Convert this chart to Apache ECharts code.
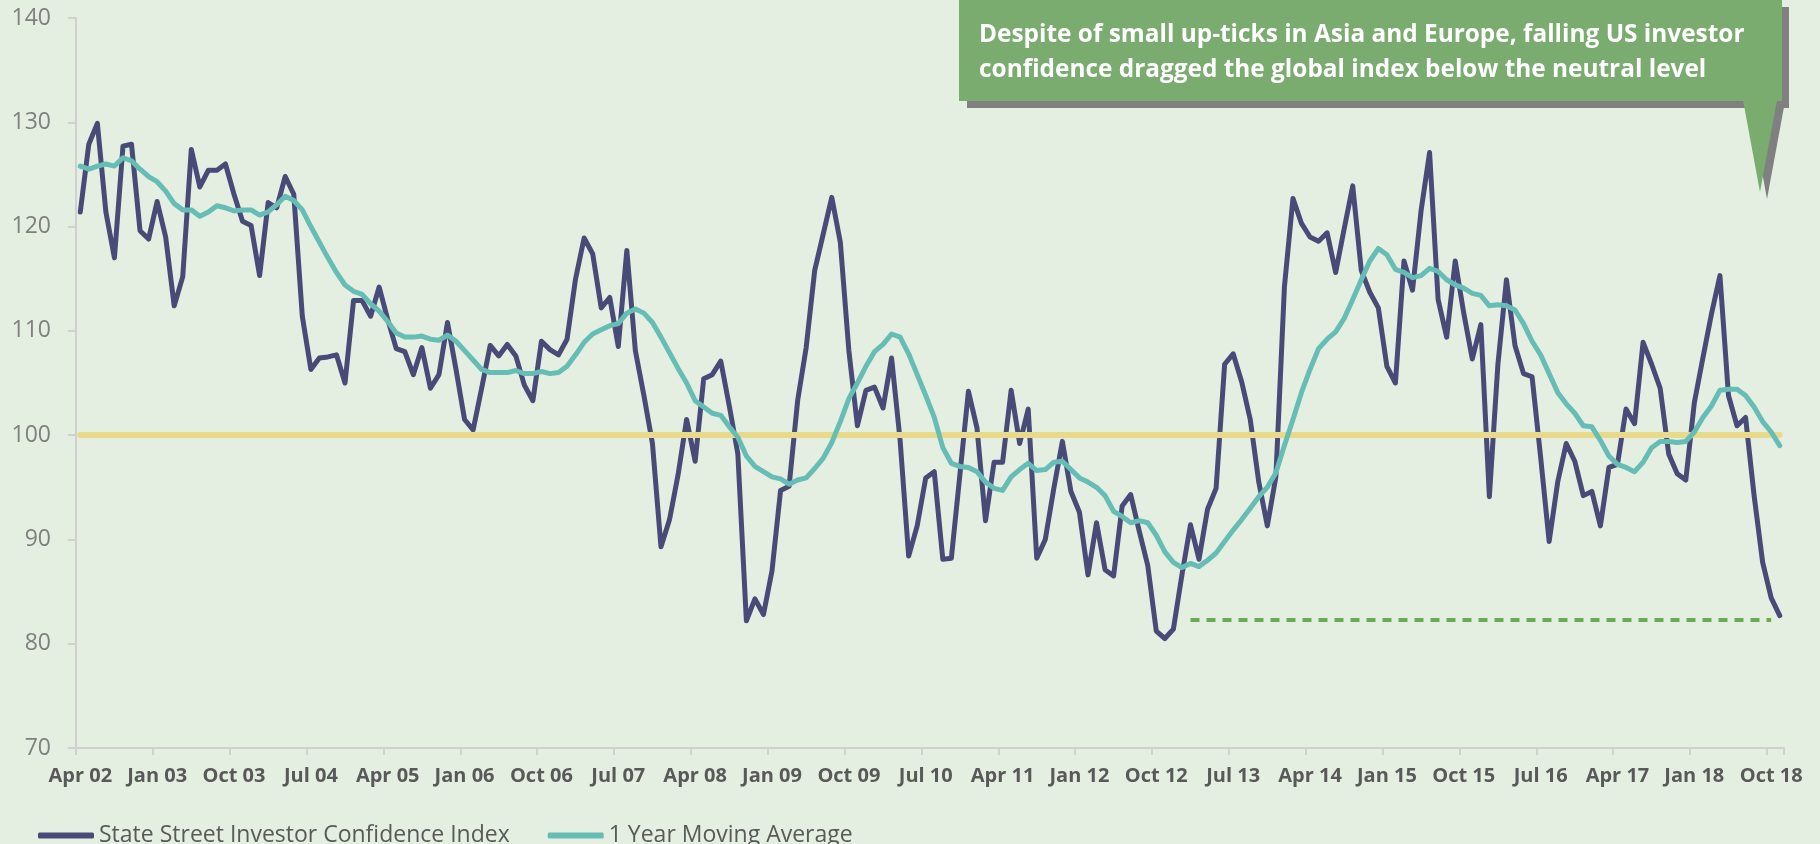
<!DOCTYPE html>
<html>
<head>
<meta charset="utf-8">
<script src="https://cdn.jsdelivr.net/npm/echarts@6/dist/echarts.min.js"></script>
<style>
html,body{margin:0;padding:0;background:#E4EFE1;}
#chart{width:1820px;height:844px;}
</style>
</head>
<body>
<div id="chart"></div>
<script>
const months = [
 "Apr 02","May 02","Jun 02","Jul 02","Aug 02","Sep 02","Oct 02","Nov 02","Dec 02",
 "Jan 03","Feb 03","Mar 03","Apr 03","May 03","Jun 03","Jul 03","Aug 03","Sep 03","Oct 03","Nov 03","Dec 03",
 "Jan 04","Feb 04","Mar 04","Apr 04","May 04","Jun 04","Jul 04","Aug 04","Sep 04","Oct 04","Nov 04","Dec 04",
 "Jan 05","Feb 05","Mar 05","Apr 05","May 05","Jun 05","Jul 05","Aug 05","Sep 05","Oct 05","Nov 05","Dec 05",
 "Jan 06","Feb 06","Mar 06","Apr 06","May 06","Jun 06","Jul 06","Aug 06","Sep 06","Oct 06","Nov 06","Dec 06",
 "Jan 07","Feb 07","Mar 07","Apr 07","May 07","Jun 07","Jul 07","Aug 07","Sep 07","Oct 07","Nov 07","Dec 07",
 "Jan 08","Feb 08","Mar 08","Apr 08","May 08","Jun 08","Jul 08","Aug 08","Sep 08","Oct 08","Nov 08","Dec 08",
 "Jan 09","Feb 09","Mar 09","Apr 09","May 09","Jun 09","Jul 09","Aug 09","Sep 09","Oct 09","Nov 09","Dec 09",
 "Jan 10","Feb 10","Mar 10","Apr 10","May 10","Jun 10","Jul 10","Aug 10","Sep 10","Oct 10","Nov 10","Dec 10",
 "Jan 11","Feb 11","Mar 11","Apr 11","May 11","Jun 11","Jul 11","Aug 11","Sep 11","Oct 11","Nov 11","Dec 11",
 "Jan 12","Feb 12","Mar 12","Apr 12","May 12","Jun 12","Jul 12","Aug 12","Sep 12","Oct 12","Nov 12","Dec 12",
 "Jan 13","Feb 13","Mar 13","Apr 13","May 13","Jun 13","Jul 13","Aug 13","Sep 13","Oct 13","Nov 13","Dec 13",
 "Jan 14","Feb 14","Mar 14","Apr 14","May 14","Jun 14","Jul 14","Aug 14","Sep 14","Oct 14","Nov 14","Dec 14",
 "Jan 15","Feb 15","Mar 15","Apr 15","May 15","Jun 15","Jul 15","Aug 15","Sep 15","Oct 15","Nov 15","Dec 15",
 "Jan 16","Feb 16","Mar 16","Apr 16","May 16","Jun 16","Jul 16","Aug 16","Sep 16","Oct 16","Nov 16","Dec 16",
 "Jan 17","Feb 17","Mar 17","Apr 17","May 17","Jun 17","Jul 17","Aug 17","Sep 17","Oct 17","Nov 17","Dec 17",
 "Jan 18","Feb 18","Mar 18","Apr 18","May 18","Jun 18","Jul 18","Aug 18","Sep 18","Oct 18","Nov 18"
];

const confidenceIndex = [
 121.4,127.9,129.9,121.4,117.0,127.7,127.9,119.6,118.8,122.4,
 119.0,112.4,115.2,127.4,123.8,125.4,125.4,126.0,123.1,120.5,
 120.1,115.3,122.3,121.8,124.8,123.1,111.4,106.3,107.4,107.5,
 107.7,105.0,112.9,112.9,111.4,114.2,111.1,108.3,108.0,105.8,
 108.4,104.5,105.8,110.8,106.3,101.5,100.5,104.5,108.6,107.6,
 108.7,107.6,104.8,103.3,109.0,108.2,107.7,109.2,115.0,118.9,
 117.4,112.2,113.2,108.5,117.7,108.1,103.8,99.2,89.3,91.9,
 96.2,101.5,97.5,105.4,105.8,107.1,102.8,98.2,82.2,84.3,
 82.8,87.0,94.7,95.1,103.3,108.4,115.8,119.3,122.8,118.5,
 108.1,100.9,104.3,104.6,102.6,107.4,99.5,88.4,91.3,95.9,
 96.5,88.1,88.2,96.2,104.2,100.7,91.8,97.4,97.4,104.3,
 99.2,102.5,88.2,90.0,94.9,99.4,94.6,92.6,86.6,91.6,
 87.1,86.5,93.2,94.3,90.8,87.5,81.2,80.5,81.4,86.6,
 91.4,88.1,92.9,94.9,106.8,107.8,105.1,101.5,95.5,91.3,
 96.0,114.2,122.7,120.3,119.0,118.6,119.4,115.6,119.8,123.9,
 115.8,113.7,112.2,106.6,105.0,116.7,113.9,121.5,127.1,113.0,
 109.4,116.7,111.7,107.3,110.6,94.1,106.8,114.9,108.6,105.9,
 105.6,97.9,89.8,95.5,99.2,97.5,94.2,94.6,91.3,96.9,
 97.2,102.5,101.1,108.9,106.8,104.5,98.2,96.3,95.7,103.1,
 107.4,111.6,115.3,103.8,100.9,101.7,94.2,87.8,84.4,82.7
];

const movingAverage = [
 125.8,125.5,125.8,126.0,125.8,126.6,126.3,125.5,124.8,124.3,
 123.4,122.2,121.6,121.6,121.0,121.4,122.0,121.8,121.5,121.6,
 121.6,121.1,121.4,122.1,122.9,122.5,121.6,120.0,118.5,117.0,
 115.6,114.4,113.8,113.5,112.6,111.9,110.9,109.8,109.4,109.4,
 109.5,109.2,109.1,109.6,109.0,108.1,107.2,106.3,106.0,106.0,
 106.0,106.2,105.9,105.9,106.1,105.9,106.0,106.6,107.7,108.9,
 109.7,110.1,110.5,110.7,111.7,112.1,111.7,110.8,109.4,107.9,
 106.4,105.0,103.3,102.7,102.1,101.9,100.8,99.8,98.0,97.0,
 96.5,96.0,95.8,95.3,95.7,95.9,96.8,97.8,99.3,101.3,
 103.5,105.0,106.6,108.0,108.7,109.7,109.4,107.8,105.8,103.8,
 101.7,98.8,97.3,97.0,96.9,96.5,95.5,94.9,94.7,96.0,
 96.7,97.3,96.6,96.7,97.4,97.5,96.7,95.9,95.5,95.0,
 94.2,92.7,92.2,91.6,91.8,91.6,90.4,88.8,87.8,87.3,
 87.7,87.4,88.0,88.7,89.8,90.9,91.9,93.0,94.1,95.0,
 96.4,99.0,101.5,104.1,106.3,108.3,109.2,109.9,111.2,113.0,
 114.9,116.7,117.9,117.3,115.9,115.6,115.1,115.3,116.0,115.7,
 114.9,114.4,114.1,113.6,113.4,112.4,112.5,112.4,112.0,110.7,
 109.0,107.7,105.9,104.1,103.0,102.1,100.9,100.8,99.5,98.0,
 97.2,96.9,96.5,97.4,98.8,99.4,99.4,99.3,99.4,100.3,
 101.7,102.8,104.3,104.4,104.4,103.8,102.7,101.3,100.3,99.0
];

const seriesNames = ["State Street Investor Confidence Index", "1 Year Moving Average"];
const neutralLevel = 100;
const latestLevel = 82.3;
const latestLevelFrom = "Feb 13";
const latestLevelTo = "Oct 18";
const yTicks = {min: 70, max: 140, step: 10};
const noteLines = [
 "Despite of small up-ticks in Asia and Europe, falling US investor",
 "confidence dragged the global index below the neutral level"
];

const FONT = "'Open Sans', sans-serif";
const chart = echarts.init(document.getElementById('chart'), null, {renderer: 'canvas'});

const option = {
  backgroundColor: '#E4EFE1',
  animation: false,
  grid: {left: 76, right: 36, top: 18, bottom: 96, containLabel: false},
  legend: {
    data: seriesNames,
    left: 33, top: 819,
    icon: 'roundRect',
    itemWidth: 56, itemHeight: 6,
    itemGap: 38,
    textStyle: {fontFamily: FONT, fontSize: 23, color: '#595959'}
  },
  xAxis: {
    type: 'category',
    data: months,
    boundaryGap: true,
    axisLine: {lineStyle: {color: '#D0D0D0', width: 2}},
    axisTick: {show: true, interval: 8, length: 7, lineStyle: {color: '#D0D0D0', width: 2}},
    axisLabel: {interval: 8, margin: 18, fontFamily: FONT, fontWeight: 'bold', fontSize: 20, color: '#595959'},
    splitLine: {show: false}
  },
  yAxis: {
    type: 'value',
    min: yTicks.min, max: yTicks.max, interval: yTicks.step,
    axisLine: {show: true, lineStyle: {color: '#D0D0D0', width: 2}},
    axisTick: {show: true, length: 8, lineStyle: {color: '#D0D0D0', width: 2}},
    axisLabel: {margin: 25, fontFamily: FONT, fontSize: 23, color: '#7F7F7F'},
    splitLine: {show: false}
  },
  series: [
    {
      name: seriesNames[0],
      type: 'line',
      data: confidenceIndex,
      showSymbol: false,
      symbol: 'none',
      z: 3,
      lineStyle: {color: '#484A77', width: 5, join: 'round', cap: 'round'},
      itemStyle: {color: '#484A77'},
      markLine: {
        silent: true,
        symbol: ['none', 'none'],
        label: {show: false},
        z: 4,
        data: [
          [{coord: [months[0], neutralLevel]}, {coord: [months[months.length - 1], neutralLevel]}],
        ],
        lineStyle: {color: '#E8D98B', width: 6, type: 'solid', cap: 'round'}
      }
    },
    {
      name: seriesNames[1],
      type: 'line',
      data: movingAverage,
      showSymbol: false,
      symbol: 'none',
      z: 5,
      lineStyle: {color: '#65BDB5', width: 5, join: 'round', cap: 'round'},
      itemStyle: {color: '#65BDB5'},
      markLine: {
        silent: true,
        symbol: ['none', 'none'],
        label: {show: false},
        data: [
          [{coord: [latestLevelFrom, latestLevel]}, {coord: [latestLevelTo, latestLevel]}]
        ],
        lineStyle: {color: '#6AAA55', width: 4, type: [9, 7]}
      }
    }
  ],
  graphic: [
    {type: 'rect', z: 100, shape: {x: 967, y: 7, width: 822, height: 101}, style: {fill: '#808080'}},
    {type: 'polygon', z: 100, shape: {points: [[1750, 107], [1784, 107], [1767, 199]]}, style: {fill: '#808080'}},
    {type: 'rect', z: 101, shape: {x: 959, y: 0, width: 823, height: 101}, style: {fill: '#7AAB6F'}},
    {type: 'polygon', z: 101, shape: {points: [[1743, 100], [1777, 100], [1760, 192]]}, style: {fill: '#7AAB6F'}},
    {type: 'text', z: 102, x: 979, y: 18,
     style: {text: noteLines.join('\n'), fill: '#FFFFFF', font: 'bold 24.4px ' + FONT, lineHeight: 35, textVerticalAlign: 'top'}}
  ]
};
chart.setOption(option);
</script>
</body>
</html>
